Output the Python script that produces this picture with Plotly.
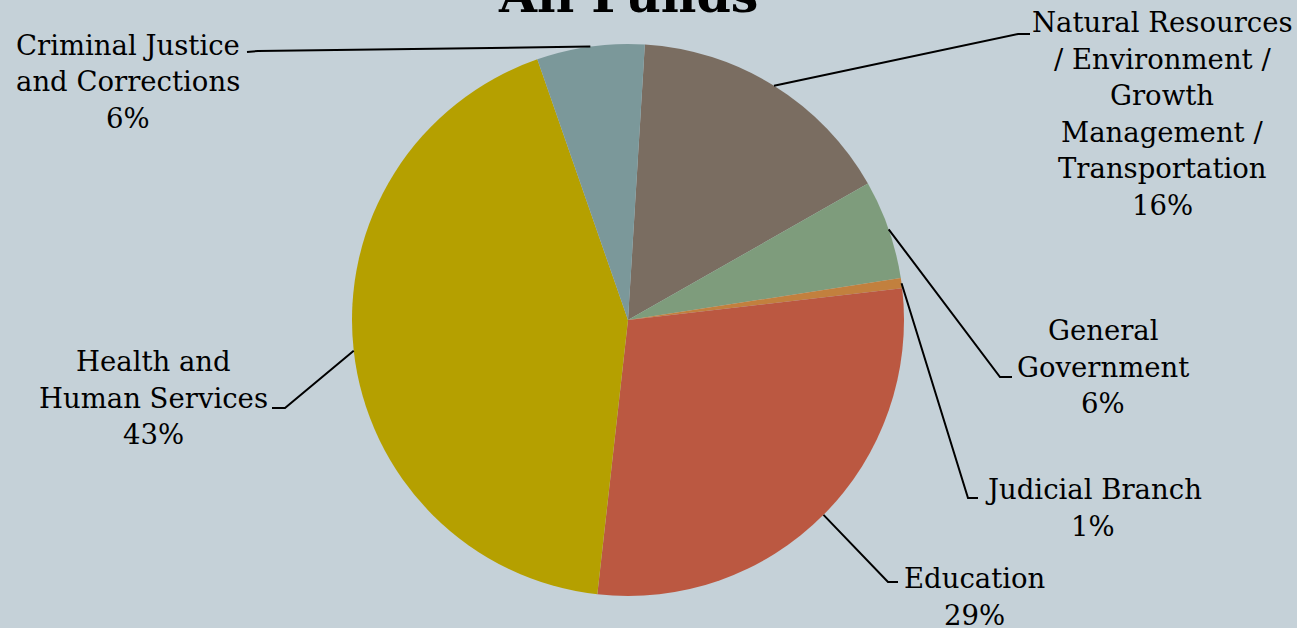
import math
import plotly.graph_objects as go

# ---- data ----
categories = [
    "Natural Resources / Environment / Growth Management / Transportation",
    "General Government",
    "Judicial Branch",
    "Education",
    "Health and Human Services",
    "Criminal Justice and Corrections",
]
values = [15.8, 5.8, 0.6, 28.6, 42.9, 6.3]
label_lines = [
    ["Natural Resources", "/ Environment /", "Growth", "Management /", "Transportation"],
    ["General", "Government"],
    ["Judicial Branch"],
    ["Education"],
    ["Health and", "Human Services"],
    ["Criminal Justice", "and Corrections"],
]
colors = ["#7a6d61", "#7e9c7c", "#c2803e", "#bb5841", "#b5a000", "#7b989a"]
title_text = "All Funds"

# ---- layout constants (pixels) ----
W, H = 1297, 628
CX, CY, R = 628, 320, 276
ROTATION = 3.5
BG = "#c5d1d8"
FONT = "DejaVu Serif"
FS = 27.5
LINE = 36.5

# label block: (center x, first line y), leader: (elbow x,y), (end x,y)
label_pos = [
    (1162, 22),
    (1103, 330),
    (1093, 489),
    (975, 578),
    (153, 361),
    (128, 45),
]
leader_pts = [
    [(1018, 34), (1030, 34)],
    [(1000, 377), (1012, 377)],
    [(968, 498), (978, 498)],
    [(888, 582), (898, 582)],
    [(285, 408), (272, 408)],
    [(258, 51), (247, 52)],
]


def px(x):
    return x / W


def py(y):
    return 1 - y / H


fig = go.Figure(
    go.Pie(
        labels=categories,
        values=values,
        sort=False,
        direction="clockwise",
        rotation=ROTATION,
        marker=dict(colors=colors, line=dict(width=0)),
        textinfo="none",
        hoverinfo="label+percent",
        domain=dict(x=[px(CX - R), px(CX + R)], y=[py(CY + R), py(CY - R)]),
        showlegend=False,
    )
)

total = sum(values)
annotations = []
shapes = []
cum = 0.0
for i, v in enumerate(values):
    mid = ROTATION + (cum + v / 2) / total * 360
    cum += v
    a = math.radians(mid)
    ex, ey = CX + R * math.sin(a), CY - R * math.cos(a)
    pts = [(ex, ey)] + leader_pts[i]
    path = "M " + " L ".join(f"{px(x):.5f},{py(y):.5f}" for x, y in pts)
    shapes.append(dict(type="path", xref="paper", yref="paper", path=path,
                       line=dict(color="black", width=2)))
    lx, ly = label_pos[i]
    lines = label_lines[i] + [f"{round(v / total * 100):d}%"]
    for k, t in enumerate(lines):
        annotations.append(dict(
            x=px(lx), y=py(ly + k * LINE), xref="paper", yref="paper",
            text=t, showarrow=False, xanchor="center", yanchor="middle",
            font=dict(family=FONT, size=FS, color="black"),
        ))

annotations.append(dict(
    x=px(CX), y=py(-5), xref="paper", yref="paper", text=f"<b>{title_text}</b>",
    showarrow=False, xanchor="center", yanchor="middle",
    font=dict(family=FONT, size=49, color="black"),
))

fig.update_layout(
    width=W, height=H,
    margin=dict(l=0, r=0, t=0, b=0),
    paper_bgcolor=BG, plot_bgcolor=BG,
    annotations=annotations, shapes=shapes,
)

fig.write_html("out.html", config={"displayModeBar": False})
